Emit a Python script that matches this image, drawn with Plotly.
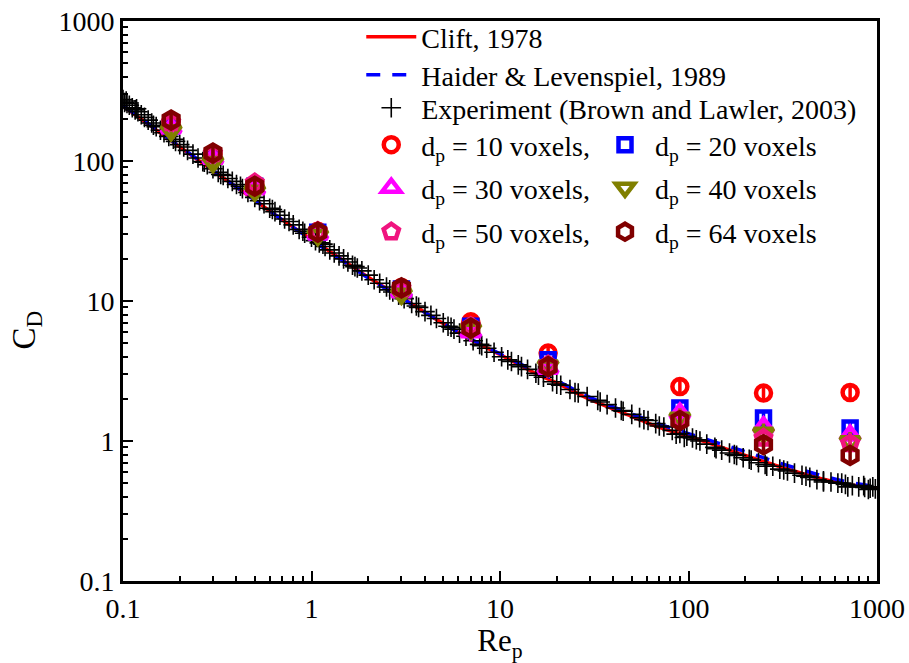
import plotly.graph_objects as go

# ---------------- data ----------------
clift_re = [0.1, 0.2, 0.3, 0.5, 0.7, 1, 1.5, 2, 3, 5, 7, 10, 15, 20, 30, 50, 70, 100, 150, 200, 300, 500, 700, 1000]
clift_cd = [247, 126, 85.5, 52.5, 38, 27.6, 19.2, 14.8, 10.6, 6.9, 5.3, 4.15, 3.1, 2.6, 1.98, 1.5, 1.25, 1.08, 0.9, 0.79, 0.66, 0.54, 0.49, 0.46]

haider_re = [0.1, 0.2, 0.3, 0.5, 0.7, 1, 1.5, 2, 3, 5, 7, 10, 15, 20, 30, 50, 70, 100, 150, 200, 300, 500, 700, 1000]
haider_cd = [250, 127, 86, 52.5, 38, 27.3, 19, 14.6, 10.5, 6.9, 5.35, 4.2, 3.2, 2.7, 2.05, 1.56, 1.32, 1.13, 0.95, 0.84, 0.7, 0.57, 0.51, 0.47]

exp_re = [0.100, 0.102, 0.104, 0.105, 0.108, 0.112, 0.116, 0.118, 0.12, 0.125, 0.13, 0.136, 0.142, 0.145, 0.15,
          0.158, 0.165, 0.175, 0.185, 0.19, 0.2, 0.21, 0.22, 0.235, 0.25, 0.265, 0.27, 0.28, 0.3, 0.32, 0.33,
          0.34, 0.36, 0.38, 0.4, 0.42, 0.43, 0.46, 0.5, 0.53, 0.56, 0.6, 0.62, 0.64, 0.68, 0.72, 0.76, 0.8,
          0.86, 0.9, 0.92, 1.0, 1.05, 1.1, 1.15, 1.18, 1.25, 1.32, 1.4, 1.48, 1.56, 1.65, 1.7, 1.75, 1.85, 2.0,
          2.15, 2.3, 2.5, 2.6, 2.7, 2.9, 3.1, 3.4, 3.6, 3.7, 4.0, 4.3, 4.6, 5.0, 5.3, 5.5, 5.7, 6.1, 6.6, 7.2,
          7.8, 8.0, 8.5, 9.3, 10.2, 11, 11.5, 12.5, 13, 14, 15.5, 16, 17, 19, 20, 21, 23.5, 25, 26, 29, 33, 34,
          37, 41, 44, 45, 50, 55, 58, 61, 67, 70, 74, 82, 86, 90, 95, 98, 105, 110, 115, 125, 138, 140, 150,
          165, 175, 180, 195, 210, 215, 235, 255, 260, 280, 305, 320, 335, 365, 400, 420, 440, 480, 520, 520,
          570, 620, 650, 680, 700, 740, 800, 850, 860, 900, 920, 950, 980]
exp_cd = [275, 262, 268, 258, 250, 240, 232, 236, 225, 214, 205, 196, 187, 180, 176,
          166, 159, 150, 143, 138, 131, 126, 119, 112, 105, 99, 98, 94, 88, 83, 80,
          79, 75, 71.5, 68, 66, 63.5, 59.5, 55, 52, 49.5, 46, 45, 43.5, 41, 38.5, 37, 35,
          32.5, 31.5, 30.5, 28.5, 27, 26, 25.5, 24.5, 23.2, 22, 21, 20, 19, 18, 17.6, 17.2, 16.4, 15.3,
          14.2, 13.4, 12.6, 12, 11.6, 11.0, 10.4, 9.6, 9.2, 9.0, 8.4, 7.9, 7.5, 7.0, 6.6, 6.5, 6.3, 5.9, 5.6, 5.2,
          4.9, 4.8, 4.6, 4.3, 4.0, 3.8, 3.7, 3.5, 3.4, 3.25, 3.05, 2.95, 2.85, 2.65, 2.55, 2.5, 2.33, 2.22, 2.2, 2.08, 1.95, 1.9,
          1.82, 1.72, 1.65, 1.63, 1.55, 1.47, 1.42, 1.4, 1.33, 1.28, 1.26, 1.19, 1.12, 1.13, 1.06, 1.08, 1.05, 1.02, 1.0, 0.95, 0.9, 0.88, 0.86,
          0.82, 0.8, 0.79, 0.76, 0.74, 0.73, 0.7, 0.68, 0.66, 0.66, 0.63, 0.62, 0.61, 0.59, 0.57, 0.56, 0.55, 0.53, 0.52, 0.51,
          0.51, 0.5, 0.5, 0.49, 0.47, 0.48, 0.47, 0.48, 0.465, 0.45, 0.46, 0.47, 0.455]

sim_re = [0.18, 0.3, 0.5, 1.08, 3, 7, 18, 90, 250, 720]
cd_d10 = [192, 112, 68, 31.5, 12.5, 7.1, 4.25, 2.45, 2.2, 2.22]
cd_d20 = [178, 108, 66, 31, 12.2, 6.6, 3.8, 1.72, 1.46, 1.24]
cd_d30 = [172, 104, 63, 30, 11.6, 6.0, 3.3, 1.58, 1.26, 1.1]
cd_d40 = [165, 98, 61, 29.5, 11.2, 6.3, 3.45, 1.46, 1.14, 0.99]
cd_d50 = [188, 113, 70, 31.5, 12.3, 6.6, 3.5, 1.43, 1.05, 0.96]
cd_d64 = [196, 114, 66, 31, 12.4, 6.4, 3.4, 1.4, 0.94, 0.79]

x_tickvals = [0.1, 1, 10, 100, 1000]
x_ticktext = ["0.1", "1", "10", "100", "1000"]
y_tickvals = [0.1, 1, 10, 100, 1000]
y_ticktext = ["0.1", "1", "10", "100", "1000"]

FONT = "Liberation Serif, Times New Roman, serif"

fig = go.Figure()

fig.add_trace(go.Scatter(x=clift_re, y=clift_cd, mode="lines", name="Clift, 1978",
                         line=dict(color="#ff0000", width=3.5, shape="spline"), legend="legend"))
fig.add_trace(go.Scatter(x=haider_re, y=haider_cd, mode="lines", name="Haider &amp; Levenspiel, 1989",
                         line=dict(color="#0000ff", width=3.5, dash="14px,12px", shape="spline"), legend="legend2"))
fig.add_trace(go.Scatter(x=exp_re, y=exp_cd, mode="markers", name="Experiment (Brown and Lawler, 2003)",
                         marker=dict(symbol="cross-thin-open", size=14, color="black",
                                     line=dict(color="black", width=1.6)),
                         legend="legend3"))

series = [
    ("d<sub>p</sub> = 10 voxels,", cd_d10, "#ff0000", "circle-open", 15, "legend4"),
    ("d<sub>p</sub> = 20 voxels", cd_d20, "#0000ff", "square-open", 13, "legend5"),
    ("d<sub>p</sub> = 30 voxels,", cd_d30, "#ff00ff", "triangle-up-open", 17, "legend6"),
    ("d<sub>p</sub> = 40 voxels", cd_d40, "#808000", "triangle-down-open", 17, "legend7"),
    ("d<sub>p</sub> = 50 voxels,", cd_d50, "#f0147f", "pentagon-open", 16, "legend8"),
    ("d<sub>p</sub> = 64 voxels", cd_d64, "#800000", "hexagon-open", 17, "legend9"),
]
for name, cd, col, sym, sz, lg in series:
    fig.add_trace(go.Scatter(x=sim_re, y=cd, mode="markers", name=name, legend=lg,
                             marker=dict(symbol=sym, size=sz, color=col, line=dict(color=col, width=4.5))))
    fig.add_trace(go.Scatter(x=sim_re, y=cd, mode="markers", showlegend=False, hoverinfo="skip",
                             marker=dict(symbol="line-ns-open", size=sz * 0.8, color=col,
                                         line=dict(color=col, width=3.5))))

minor_vals = [m * 10 ** e for e in range(-1, 3) for m in range(2, 10)]
fig.update_xaxes(type="log", range=[-1, 3], tickmode="array", tickvals=x_tickvals, ticktext=x_ticktext,
                 ticks="inside", ticklen=10, tickwidth=2, tickcolor="black",
                 minor=dict(ticks="inside", ticklen=5, tickwidth=2, tickcolor="black", showgrid=False,
                            tickvals=minor_vals),
                 showline=True, linewidth=3, linecolor="black", mirror=True, showgrid=False, zeroline=False,
                 tickfont=dict(family=FONT, size=28, color="black"),
                 title=dict(text="Re<sub>p</sub>", font=dict(family=FONT, size=31, color="black"), standoff=0))
fig.update_yaxes(type="log", range=[-1, 3], tickmode="array", tickvals=y_tickvals, ticktext=y_ticktext,
                 ticks="inside", ticklen=10, tickwidth=2, tickcolor="black",
                 minor=dict(ticks="inside", ticklen=5, tickwidth=2, tickcolor="black", showgrid=False,
                            tickvals=minor_vals),
                 showline=True, linewidth=3, linecolor="black", mirror=True, showgrid=False, zeroline=False,
                 tickfont=dict(family=FONT, size=28, color="black"))

fig.add_annotation(text="C<sub>D</sub>", textangle=-90, showarrow=False,
                   xref="paper", yref="paper", x=-0.128, y=0.448, xanchor="center", yanchor="middle",
                   font=dict(family=FONT, size=33, color="black"))


def leg(xp, top_px):
    return dict(bgcolor="rgba(0,0,0,0)", borderwidth=0,
                font=dict(family=FONT, size=28, color="black"),
                xref="paper", yref="container", x=xp, y=1 - top_px / 663,
                xanchor="left", yanchor="top", itemwidth=50, tracegroupgap=0)


X1 = 0.316
X2 = 0.626
fig.update_layout(
    width=909, height=663,
    margin=dict(l=123, r=32, t=21, b=82, autoexpand=False),
    plot_bgcolor="white", paper_bgcolor="white",
    font=dict(family=FONT),
    legend=leg(X1, 12),
    legend2=leg(X1, 50),
    legend3=leg(X1, 83),
    legend4=leg(X1, 120),
    legend5=leg(X2, 120),
    legend6=leg(X1, 163),
    legend7=leg(X2, 163),
    legend8=leg(X1, 207),
    legend9=leg(X2, 207),
)

fig.write_html("out.html", config={"displayModeBar": False},
               post_script="document.documentElement.style.margin='0';document.body.style.margin='0';document.body.style.padding='0';")
